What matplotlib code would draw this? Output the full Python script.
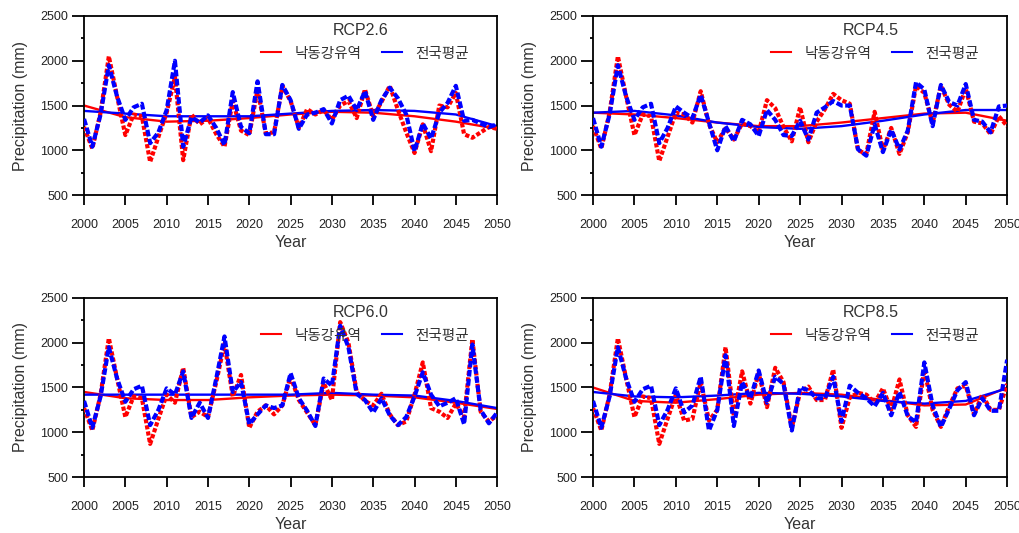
import numpy as np
import matplotlib
matplotlib.use("Agg")
import matplotlib.pyplot as plt
from matplotlib.lines import Line2D
from matplotlib.ticker import MultipleLocator

plt.rcParams['font.family'] = ['Liberation Sans', 'Noto Sans CJK KR', 'DejaVu Sans']

years = list(range(2000, 2051))
trend_years = list(range(2000, 2051, 5))

##########################################
# 연강수량 (mm) - 낙동강유역 / 전국평균
##########################################
rcp26_nakdong = [1260, 1020, 1420, 2050, 1600, 1170, 1400, 1380, 870, 1150,
                 1420, 1820, 890, 1400, 1290, 1360, 1180, 1040, 1550, 1220,
                 1170, 1680, 1190, 1200, 1720, 1550, 1250, 1460, 1400, 1450,
                 1340, 1500, 1550, 1360, 1680, 1380, 1540, 1720, 1450, 1200,
                 970, 1290, 990, 1500, 1480, 1640, 1180, 1140, 1200, 1260, 1240]
rcp26_national = [1350, 1040, 1400, 1950, 1600, 1340, 1480, 1520, 1080, 1200,
                  1450, 2000, 1040, 1370, 1310, 1390, 1250, 1060, 1650, 1260,
                  1190, 1770, 1180, 1180, 1730, 1560, 1240, 1400, 1420, 1460,
                  1300, 1560, 1610, 1450, 1660, 1340, 1560, 1700, 1580, 1400,
                  990, 1300, 1130, 1420, 1530, 1720, 1330, 1340, 1300, 1260, 1290]
rcp26_trend_nakdong = [1500, 1370, 1320, 1330, 1360, 1400, 1430, 1420, 1380, 1320, 1240]
rcp26_trend_national = [1440, 1410, 1380, 1380, 1380, 1410, 1440, 1450, 1440, 1400, 1270]

rcp45_nakdong = [1270, 1020, 1420, 2050, 1600, 1170, 1400, 1380, 880, 1150,
                 1420, 1400, 1310, 1660, 1290, 1090, 1250, 1120, 1300, 1270,
                 1200, 1560, 1470, 1260, 1100, 1480, 1090, 1320, 1460, 1630,
                 1560, 1520, 1000, 960, 1430, 1000, 1250, 960, 1200, 1720,
                 1640, 1300, 1720, 1510, 1430, 1690, 1320, 1300, 1180, 1380, 1270]
rcp45_national = [1360, 1040, 1400, 1950, 1600, 1340, 1480, 1520, 1080, 1250,
                  1490, 1420, 1360, 1620, 1310, 1000, 1270, 1100, 1340, 1290,
                  1160, 1450, 1340, 1170, 1160, 1330, 1120, 1420, 1480, 1550,
                  1500, 1500, 1010, 940, 1290, 980, 1230, 1010, 1220, 1760,
                  1680, 1270, 1730, 1540, 1500, 1740, 1340, 1320, 1200, 1490, 1500]
rcp45_trend_nakdong = [1420, 1400, 1360, 1310, 1270, 1270, 1310, 1360, 1410, 1420, 1330]
rcp45_trend_national = [1420, 1440, 1390, 1310, 1260, 1240, 1270, 1330, 1400, 1450, 1450]

rcp60_nakdong = [1270, 1020, 1420, 2050, 1600, 1170, 1400, 1380, 870, 1150,
                 1420, 1330, 1720, 1170, 1230, 1170, 1560, 1990, 1400, 1640,
                 1050, 1230, 1300, 1200, 1300, 1620, 1360, 1220, 1080, 1550,
                 1360, 2230, 2000, 1450, 1350, 1300, 1430, 1200, 1080, 1120,
                 1420, 1780, 1270, 1230, 1160, 1320, 1170, 2040, 1230, 1120, 1190]
rcp60_national = [1350, 1050, 1400, 1950, 1600, 1340, 1480, 1520, 1080, 1250,
                  1490, 1420, 1680, 1160, 1330, 1160, 1600, 2070, 1450, 1560,
                  1090, 1200, 1300, 1270, 1300, 1660, 1380, 1240, 1070, 1600,
                  1520, 2190, 1950, 1430, 1360, 1220, 1380, 1190, 1080, 1170,
                  1400, 1670, 1420, 1290, 1330, 1380, 1090, 1980, 1250, 1100, 1220]
rcp60_trend_nakdong = [1450, 1380, 1360, 1360, 1390, 1410, 1420, 1410, 1390, 1330, 1260]
rcp60_trend_national = [1420, 1420, 1420, 1420, 1420, 1420, 1440, 1420, 1410, 1350, 1270]

rcp85_nakdong = [1270, 1020, 1420, 2050, 1600, 1170, 1400, 1380, 870, 1150,
                 1420, 1130, 1150, 1560, 1130, 1250, 1950, 1180, 1680, 1320,
                 1660, 1280, 1720, 1560, 1050, 1450, 1510, 1360, 1360, 1700,
                 1050, 1390, 1440, 1420, 1330, 1490, 1250, 1590, 1190, 1060,
                 1700, 1250, 1060, 1290, 1490, 1520, 1200, 1420, 1250, 1250, 1540]
rcp85_national = [1350, 1050, 1400, 1950, 1600, 1340, 1480, 1520, 1080, 1250,
                  1490, 1220, 1300, 1620, 1020, 1250, 1860, 1070, 1560, 1380,
                  1690, 1330, 1620, 1540, 1020, 1500, 1470, 1380, 1380, 1620,
                  1120, 1520, 1440, 1380, 1290, 1440, 1190, 1450, 1180, 1110,
                  1780, 1300, 1060, 1260, 1470, 1560, 1190, 1380, 1240, 1240, 1810]
rcp85_trend_nakdong = [1500, 1350, 1330, 1370, 1420, 1440, 1420, 1360, 1300, 1310, 1500]
rcp85_trend_national = [1450, 1400, 1390, 1410, 1440, 1430, 1400, 1350, 1320, 1350, 1490]

scenarios = ['RCP2.6', 'RCP4.5', 'RCP6.0', 'RCP8.5']
series = [
    (rcp26_nakdong, rcp26_national, rcp26_trend_nakdong, rcp26_trend_national),
    (rcp45_nakdong, rcp45_national, rcp45_trend_nakdong, rcp45_trend_national),
    (rcp60_nakdong, rcp60_national, rcp60_trend_nakdong, rcp60_trend_national),
    (rcp85_nakdong, rcp85_national, rcp85_trend_nakdong, rcp85_trend_national),
]
legend_labels = ['낙동강유역', '전국평균']

RED = '#ff0000'
BLUE = '#0000ff'

fig = plt.figure(figsize=(10.2, 5.33), dpi=100)
positions = [
    [0.0824, 0.634, 0.405, 0.336],
    [0.5814, 0.634, 0.406, 0.336],
    [0.0824, 0.105, 0.405, 0.336],
    [0.5814, 0.105, 0.406, 0.336],
]

for pos, name, (nak, nat, tnak, tnat) in zip(positions, scenarios, series):
    ax = fig.add_axes(pos)
    ax.plot(trend_years, tnak, color=RED, lw=1.7, zorder=2)
    ax.plot(trend_years, tnat, color=BLUE, lw=1.7, zorder=2)
    ax.plot(years, nak, color=RED, lw=3.0, ls=(0, (1.0, 0.5)), zorder=3)
    ax.plot(years, nat, color=BLUE, lw=3.0, ls=(0, (1.6, 0.6)), zorder=4)

    ax.set_xlim(2000, 2050)
    ax.set_ylim(500, 2500)
    ax.set_xticks(range(2000, 2051, 5))
    ax.set_yticks(range(500, 2501, 500))
    ax.yaxis.set_minor_locator(MultipleLocator(250))
    ax.tick_params(axis='both', direction='out', width=1.3, labelsize=9,
                   labelcolor='#222222')
    ax.tick_params(axis='y', which='major', length=8.5, pad=3)
    ax.tick_params(axis='y', which='minor', length=2.5, width=1.3)
    ax.tick_params(axis='x', which='major', length=7, pad=10)
    for sp in ax.spines.values():
        sp.set_linewidth(1.3)
    ax.set_xlabel('Year', fontsize=11.5, color='#333333', labelpad=3)
    ax.set_ylabel('Precipitation (mm)', fontsize=11.5, color='#333333', labelpad=9)

    ax.text(0.67, 0.92, name, transform=ax.transAxes, ha='center', va='center',
            fontsize=11.5, color='#333333')
    handles = [Line2D([], [], color=RED, lw=1.5), Line2D([], [], color=BLUE, lw=1.5)]
    ax.legend(handles, legend_labels, loc='center', bbox_to_anchor=(0.68, 0.79),
              ncol=2, frameon=False, fontsize=10.5, handlelength=1.4,
              columnspacing=1.4, handletextpad=0.9, labelcolor='#333333')

fig.savefig('out.png', dpi=100)
